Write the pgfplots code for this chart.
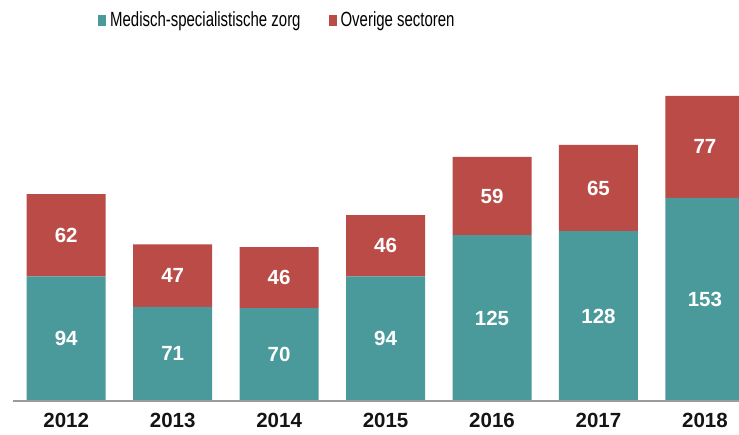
\documentclass[border=0pt]{standalone}
\usepackage{pgfplots}
\pgfplotsset{compat=1.18}
\usepackage{fontspec}
\setmainfont{Liberation Sans}
\newfontfamily\narrowfont[FakeStretch=0.73]{Liberation Sans}
\definecolor{teal1}{RGB}{74,154,155}
\definecolor{red1}{RGB}{187,75,70}
\definecolor{axisgray}{RGB}{155,155,155}
\definecolor{txt}{RGB}{20,20,20}
\begin{document}
\begin{tikzpicture}
\path[use as bounding box] (0,0) rectangle (739pt,435pt);
\begin{axis}[
  at={(13pt,34pt)}, anchor=south west,
  scale only axis, width=726pt, height=341pt,
  ybar stacked, bar width=79pt,
  xmin=-0.5, xmax=6.32, ymin=0, ymax=257,
  axis on top,
  axis x line*=bottom, axis y line=none,
  x axis line style={-, draw=axisgray, line width=1.5pt},
  xtick={0,1,2,3,4,5,6},
  xticklabels={2012,2013,2014,2015,2016,2017,2018},
  major tick length=0pt,
  xticklabel style={font=\fontsize{20.5}{24}\selectfont\bfseries, text=txt, yshift=-9pt},
  ytick=\empty,
  point meta=rawy,
  nodes near coords={\pgfmathprintnumber[assume math mode=true]{\pgfplotspointmeta}},
  every node near coord/.append style={font=\fontsize{20.5}{24}\selectfont\bfseries, text=white, anchor=center},
  legend columns=2,
  legend style={at={(0.117,1.117)}, anchor=west, draw=none, fill=none, inner sep=0pt,
    nodes={inner sep=0pt},
    font=\narrowfont\fontsize{20.5}{24}\selectfont,
    /tikz/every odd column/.append style={column sep=4pt},
    /tikz/every even column/.append style={column sep=28pt}},
]
\addplot[fill=teal1, draw=none, legend image code/.code={\fill[teal1] (0pt,-5.5pt) rectangle (8pt,5.5pt);}]
  coordinates {(0,94) (1,71) (2,70) (3,94) (4,125) (5,128) (6,153)};
\addlegendentry{Medisch-specialistische zorg}
\addplot[fill=red1, draw=none, legend image code/.code={\fill[red1] (0pt,-5.5pt) rectangle (8pt,5.5pt);}]
  coordinates {(0,62) (1,47) (2,46) (3,46) (4,59) (5,65) (6,77)};
\addlegendentry{Overige sectoren}
\end{axis}
\end{tikzpicture}
\end{document}
